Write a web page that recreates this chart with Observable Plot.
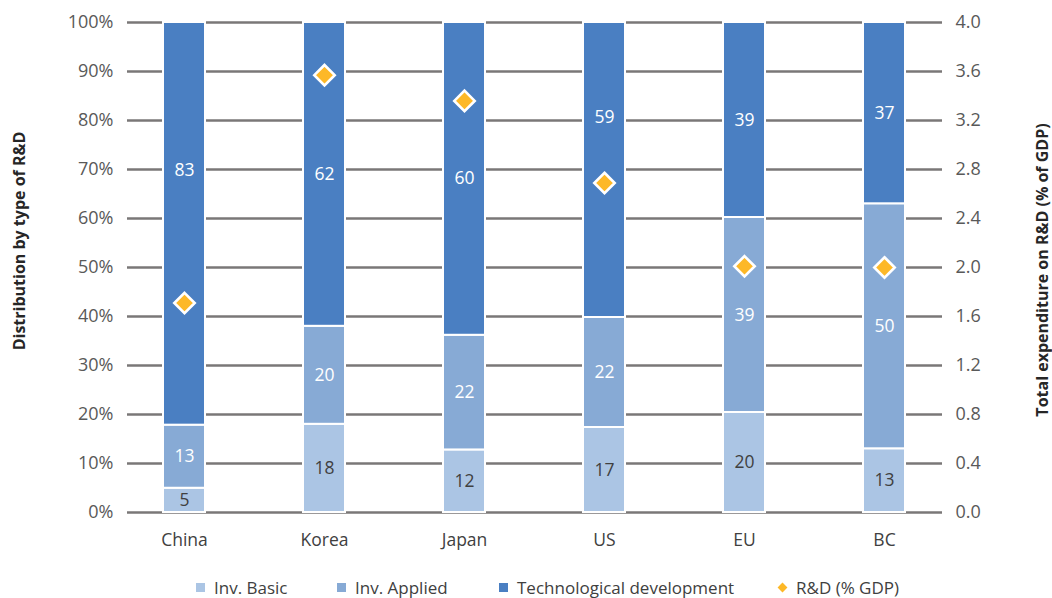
<!DOCTYPE html>
<html><head><meta charset="utf-8">
<script src="https://cdn.jsdelivr.net/npm/d3@7"></script>
<script src="https://cdn.jsdelivr.net/npm/@observablehq/plot@0.6"></script>
<style>
body{margin:0;background:#fff;font-family:"Open Sans",sans-serif;}
#wrap{position:relative;width:1052px;height:598px;overflow:hidden;}
#legend{position:absolute;top:576px;left:0;width:1052px;height:22px;font-size:17px;color:#404040;white-space:nowrap;}
.item{position:absolute;top:0;display:flex;align-items:center;height:22px;}
.sw{width:9px;height:9px;margin-right:9px;}
.dm{width:7px;height:7px;margin:0 10px 0 2px;transform:rotate(45deg);}
.ttl{position:absolute;font-weight:bold;font-size:16px;color:#262626;white-space:nowrap;transform:translate(-50%,-50%) rotate(-90deg);}
</style></head><body><div id="wrap"><div id="chart"></div>
<div class="ttl" id="tl" style="left:19px;top:241px;"></div>
<div class="ttl" id="tr" style="left:1042px;top:270px;"></div>
<div id="legend"></div></div>
<script>
const countries = ["China", "Korea", "Japan", "US", "EU", "BC"];
const types = ["Inv. Basic", "Inv. Applied", "Technological development"];
const basic = [5, 18, 12, 17, 20, 13];
const applied = [13, 20, 22, 22, 39, 50];
const techDev = [83, 62, 60, 59, 39, 37];
const rdGdp = [1.71, 3.57, 3.36, 2.69, 2.01, 2.0];
const rdName = "R&D (% GDP)";
const leftTicks = [0, 10, 20, 30, 40, 50, 60, 70, 80, 90, 100];
const rightTicks = [0.0, 0.4, 0.8, 1.2, 1.6, 2.0, 2.4, 2.8, 3.2, 3.6, 4.0];
const rightMax = 4.0;
const leftTitle = "Distribution by type of R&D";
const rightTitle = "Total expenditure on R&D (% of GDP)";

const colors = ["#abc5e4", "#87aad5", "#4a7fc2"];
const diamondColor = "#fdb827";

const series = [basic, applied, techDev];
const rows = [];
countries.forEach((c, i) => types.forEach((t, j) => rows.push({country: c, type: t, value: series[j][i]})));
const rdRows = countries.map((c, i) => ({country: c, rd: rdGdp[i]}));

const stackOpts = {x: "country", y: "value", z: "type", order: types, offset: "normalize"};
// labels of the top segment that are lifted away from the middle in the original
const lifted = new Set(["China", "US"]);
const isTech = d => d.type === types[2];
const isLifted = d => isTech(d) && lifted.has(d.country);

const chart = Plot.plot({
  width: 1052,
  height: 560,
  marginTop: 22,
  marginBottom: 48,
  marginLeft: 127,
  marginRight: 110,
  style: {fontFamily: "Open Sans", fontSize: "17.5px", color: "#595959"},
  x: {domain: countries, range: [113, 955], paddingInner: 0.7, paddingOuter: 0.35, label: null},
  y: {domain: [0, 1], label: null},
  color: {domain: types, range: colors},
  marks: [
    Plot.ruleY(leftTicks.map(d => d / 100), {stroke: "#7a7777", strokeWidth: 2.3}),
    Plot.axisY(leftTicks.map(d => d / 100), {anchor: "left", tickSize: 0, tickPadding: 14, fontSize: 18, tickFormat: d => `${Math.round(d * 100)}%`, label: null, fill: "#595959"}),
    Plot.axisY(rightTicks.map(d => d / rightMax), {anchor: "right", tickSize: 0, tickPadding: 13, fontSize: 18, tickFormat: d => (d * rightMax).toFixed(1), label: null, fill: "#595959"}),
    Plot.axisX({tickSize: 0, tickPadding: 21, fontSize: 17.5, label: null, fill: "#404040"}),
    Plot.barY(rows, Plot.stackY({...stackOpts, fill: "type", stroke: "white", strokeWidth: 2})),
    Plot.text(rows, Plot.stackY({...stackOpts, text: d => isLifted(d) ? null : d.value,
      fill: d => d.type === types[0] ? "#404040" : "white", fontSize: 17.5})),
    Plot.text(rows, Plot.stackY({...stackOpts, text: d => isLifted(d) ? d.value : null,
      fill: "white", fontSize: 17.5, dy: -53})),
    Plot.dot(rdRows, {x: "country", y: d => d.rd / rightMax, symbol: "diamond2", r: 9.2, fill: diamondColor, stroke: "white", strokeWidth: 2.6})
  ]
});
document.getElementById("chart").appendChild(chart);
document.getElementById("tl").textContent = leftTitle;
document.getElementById("tr").textContent = rightTitle;

const legend = document.getElementById("legend");
const legendLeft = [196, 337, 499, 777];
types.forEach((t, i) => {
  const it = document.createElement("div"); it.className = "item"; it.style.left = legendLeft[i] + "px";
  const sw = document.createElement("div"); sw.className = "sw"; sw.style.background = colors[i];
  const lb = document.createElement("span"); lb.textContent = t;
  it.append(sw, lb); legend.append(it);
});
const it = document.createElement("div"); it.className = "item"; it.style.left = legendLeft[3] + "px";
const dm = document.createElement("div"); dm.className = "dm"; dm.style.background = diamondColor;
const lb = document.createElement("span"); lb.textContent = rdName;
it.append(dm, lb); legend.append(it);
</script></body></html>
